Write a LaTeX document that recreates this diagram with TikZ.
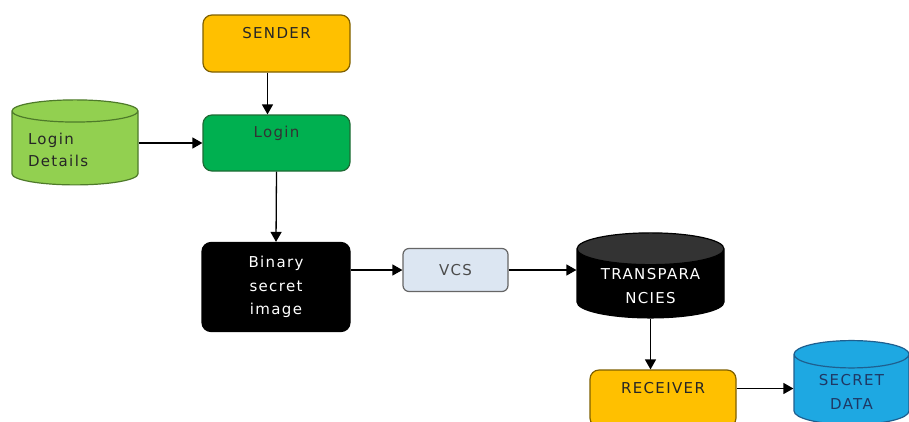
\documentclass[tikz,border=0pt]{standalone}
\usepackage{fontspec}
\setmainfont{DejaVu Sans}[LetterSpace=9]
\usetikzlibrary{shapes.geometric,arrows.meta}

\definecolor{amber}{HTML}{FFC000}
\definecolor{amberline}{HTML}{7F6000}
\definecolor{leaf}{HTML}{00B050}
\definecolor{leafline}{HTML}{1E6B34}
\definecolor{lime}{HTML}{92D050}
\definecolor{limeline}{HTML}{4E7A2A}
\definecolor{mist}{HTML}{DCE6F2}
\definecolor{sky}{HTML}{1EA8E2}
\definecolor{skyline}{HTML}{1F5F8F}
\definecolor{navytext}{HTML}{1F3864}

\begin{document}
\begin{tikzpicture}[
        x=1pt, y=-1pt,
        every node/.style={font=\fontsize{15}{23.5}\selectfont},
        procbox/.style={rectangle, rounded corners=9pt, line width=1.2pt, minimum width=147pt, minimum height=57pt, align=center},
        textup/.style={text depth=22pt},
        store/.style={cylinder, shape border rotate=90, aspect=0.3, line width=1.2pt, align=center, cylinder uses custom fill},
        arrow/.style={-{Triangle[length=10pt,width=11pt]}, line width=1.3pt, draw=black}
        ]
        \clip (0,0) rectangle (909,421);
        \fill[white] (0,0) rectangle (909,421);

        % Sender side
        \node[procbox, textup, fill=amber, draw=amberline, text=black!85] (sender) at (276.5, 43.5) {SENDER};
        \node[procbox, textup, fill=leaf, draw=leafline, text=black!80, minimum height=56pt] (login) at (276.5, 143) {Login};
        \node[store, aspect=0.22, draw=limeline, cylinder body fill=lime, cylinder end fill=lime, text=black!85, minimum width=126pt, minimum height=85pt, text width=94pt, align=left, font=\fontsize{15}{22}\selectfont] (logindet) at (75, 150) {Login\\Details};

        % Middle row
        \node[procbox, fill=black, draw=black, text=white, minimum width=148pt, minimum height=89pt] (binary) at (276, 287) {Binary\\secret\\image};
        \node[procbox, rounded corners=6pt, fill=mist, draw=black!60, text=black!70, minimum width=105pt, minimum height=43pt] (vcs) at (455.5, 270) {VCS};
        \node[store, draw=black, cylinder body fill=black, cylinder end fill=black!80, text=white, minimum width=147pt, minimum height=84pt] (transp) at (650.5, 286) {TRANSPARA\\NCIES};

        % Receiver side
        \node[procbox, textup, fill=amber, draw=amberline, text=black!85, minimum width=146pt] (receiver) at (663, 398.5) {RECEIVER};
        \node[store, aspect=0.38, draw=skyline, cylinder body fill=sky, cylinder end fill=sky, text=navytext, minimum width=115pt, minimum height=84pt] (secret) at (851.5, 392) {SECRET\\DATA};

        % Connections
        \draw[arrow] ([xshift=-9pt]sender.south) -- ([xshift=-9pt]login.north);
        \draw[arrow] (logindet.east |- login.west) -- (login.west);
        \draw[arrow] (login.south) -- (binary.north);
        \draw[arrow] (binary.east |- vcs.west) -- (vcs.west);
        \draw[arrow] (vcs.east) -- (vcs.east -| transp.west);
        \draw[arrow] (transp.south) -- (transp.south |- receiver.north);
        \draw[arrow] ([yshift=10pt]receiver.east) coordinate (recout) -- (recout -| secret.west);

    \end{tikzpicture}
\end{document}
